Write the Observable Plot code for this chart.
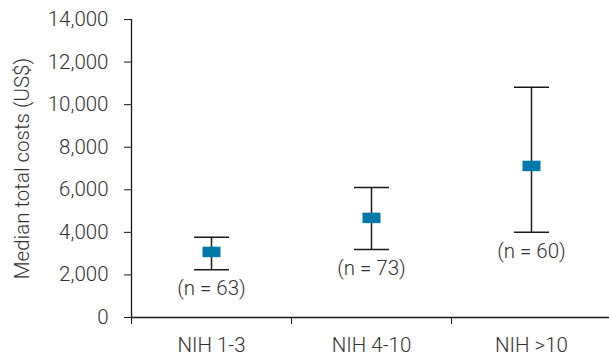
<!DOCTYPE html>
<html>
<head>
<meta charset="utf-8">
<script src="https://cdn.jsdelivr.net/npm/d3@7"></script>
<script src="https://cdn.jsdelivr.net/npm/@observablehq/plot@0.6"></script>
<style>
  html, body { margin: 0; padding: 0; background: #fff; }
  svg { display: block; }
</style>
</head>
<body>
<div id="chart"></div>
<script>
const categories = ["NIH 1-3", "NIH 4-10", "NIH >10"];
const medians = [3080, 4680, 7120];
const lows = [2240, 3190, 4000];
const highs = [3770, 6110, 10820];
const nLabels = ["(n = 63)", "(n = 73)", "(n = 60)"];
const yTicks = [0, 2000, 4000, 6000, 8000, 10000, 12000, 14000];

const data = categories.map((c, i) => ({
  cat: c, pos: i + 0.5, median: medians[i], low: lows[i], high: highs[i], n: nLabels[i]
}));

const capSymbol = {
  draw(ctx) { ctx.moveTo(-17.5, 0); ctx.lineTo(17.5, 0); }
};
const boxSymbol = {
  draw(ctx) { ctx.rect(-9, -5.25, 18, 10.5); }
};

const ink = "#1a1a1a";
const textColor = "#333";
const fs = 20.5;

const chart = Plot.plot({
  width: 609,
  height: 358,
  marginLeft: 131,
  marginRight: -2,
  marginTop: 19,
  marginBottom: 41,
  style: { fontFamily: "Roboto, sans-serif", fontSize: fs + "px", fontWeight: 300, color: textColor, background: "#fff" },
  x: { domain: [0, categories.length] },
  y: { domain: [0, 14000] },
  marks: [
    Plot.axisY({
      ticks: yTicks, tickFormat: d3.format(",d"), tickSize: 7, tickPadding: 16,
      fontSize: fs, fill: textColor, stroke: ink,
      label: "Median total costs (US$)", labelAnchor: "center", labelArrow: "none", labelOffset: 117
    }),
    Plot.axisX({
      ticks: d3.range(categories.length + 1), tickFormat: () => "", tickSize: 7, stroke: ink, label: null
    }),
    Plot.axisX({
      ticks: data.map(d => d.pos), tickFormat: (v) => categories[Math.floor(v)], tickSize: 0,
      tickPadding: 20, fontSize: fs, fill: textColor, label: null
    }),
    Plot.ruleX([0], { stroke: ink, strokeWidth: 1.3 }),
    Plot.ruleY([0], { stroke: ink, strokeWidth: 1.3 }),
    Plot.ruleX(data, { x: "pos", y1: "low", y2: "high", stroke: ink, strokeWidth: 1.5 }),
    Plot.dot(data, { x: "pos", y: "low", symbol: capSymbol, stroke: ink, strokeWidth: 1.5, fill: "none" }),
    Plot.dot(data, { x: "pos", y: "high", symbol: capSymbol, stroke: ink, strokeWidth: 1.5, fill: "none" }),
    Plot.dot(data, { x: "pos", y: "median", symbol: boxSymbol, fill: "#0079a8", stroke: "none" }),
    Plot.text(data, { x: "pos", y: "low", text: "n", dy: 19, fontSize: fs, fill: textColor })
  ]
});
document.getElementById("chart").append(chart);
</script>
</body>
</html>
